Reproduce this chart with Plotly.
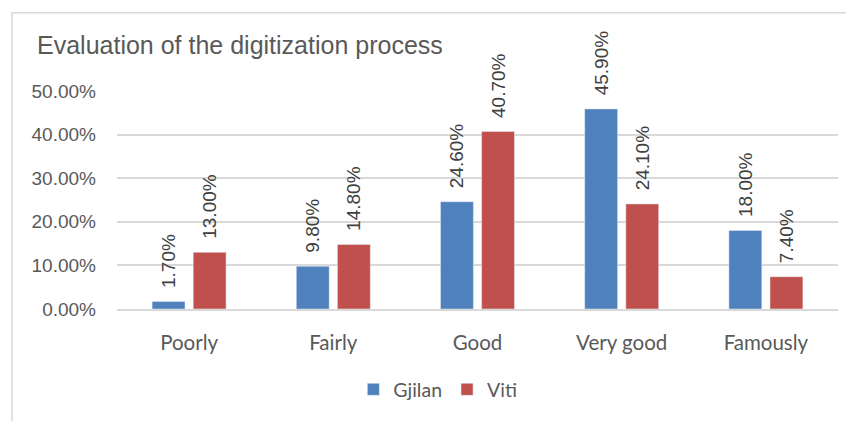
import plotly.graph_objects as go

categories = ["Poorly", "Fairly", "Good", "Very good", "Famously"]
gjilan = [0.017, 0.098, 0.246, 0.459, 0.180]
viti = [0.130, 0.148, 0.407, 0.241, 0.074]

BLUE = "#4F81BD"
RED = "#C0504D"
GRID = "#D9D9D9"
TEXT = "#595959"

# the page body adds an 8px margin, so the figure is drawn 8px smaller
W, H = 846, 413

fig = go.Figure()
for name, vals, color in [("Gjilan", gjilan, BLUE), ("Viti", viti, RED)]:
    fig.add_trace(go.Bar(
        x=categories, y=vals, name=name, marker_color=color,
        # leading non-breaking spaces lift the rotated label off the bar like Excel does
        texttemplate="\u00a0\u00a0%{y:.2%}", textposition="outside", textangle=-90,
        constraintext="none", cliponaxis=False,
        textfont=dict(family="Liberation Sans", size=19, color="#404040"),
    ))

# light frame around the chart area (top and left edges visible in the crop)
fig.add_shape(type="rect", xref="paper", yref="paper",
              x0=-0.1456, x1=1.05, y0=-0.6, y1=1.359,
              line=dict(color=GRID, width=1.5), layer="below")

fig.update_layout(
    width=W, height=H,
    margin=dict(l=109, r=16, t=83, b=110),
    paper_bgcolor="white", plot_bgcolor="white",
    barmode="group", bargap=0.43, bargroupgap=0.2,
    title=dict(text="Evaluation of the digitization process",
               x=29 / W, xanchor="left", xref="container",
               y=1 - 37 / H, yanchor="middle",
               font=dict(family="Liberation Sans", size=25, color=TEXT)),
    legend=dict(orientation="h", x=0.445, xanchor="center", y=-0.37, yanchor="middle",
                font=dict(family="Lato", size=19.5, color=TEXT)),
    showlegend=True,
)
fig.update_yaxes(range=[0, 0.5], dtick=0.1, tickformat=".2%",
                 gridcolor=GRID, gridwidth=1.5, zeroline=False,
                 ticklabelstandoff=20,
                 tickfont=dict(family="Liberation Sans", size=19, color=TEXT))
fig.update_xaxes(showline=True, linecolor=GRID, linewidth=2,
                 ticklabelstandoff=14,
                 tickfont=dict(family="Lato", size=20.5, color=TEXT))

fig.write_html("out.html")
